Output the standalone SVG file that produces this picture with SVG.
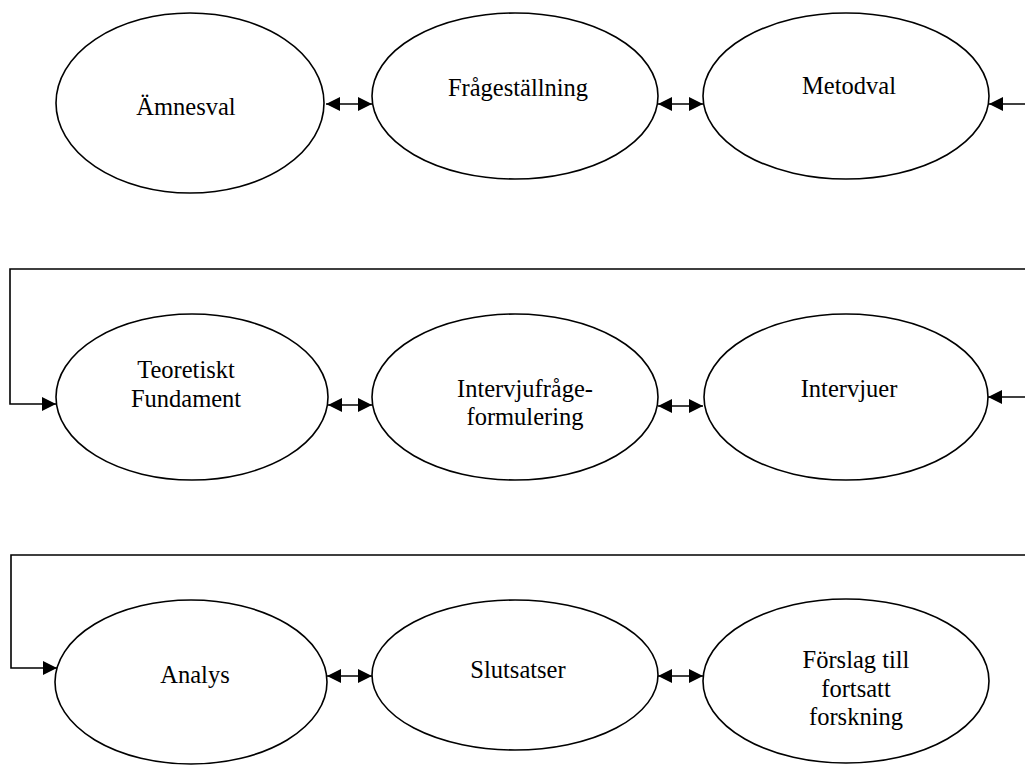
<svg xmlns="http://www.w3.org/2000/svg" width="1025" height="765" viewBox="0 0 1025 765">
<style>
.node ellipse{fill:#fff;stroke:#000;stroke-width:1.6}
.node text{font-size:24.5px;fill:#000;text-anchor:middle}
.conn{fill:none;stroke:#000;stroke-width:1.6}
</style>
<defs>
<marker id="ah" markerUnits="userSpaceOnUse" markerWidth="15" markerHeight="15" refX="14" refY="7" orient="auto-start-reverse">
<path d="M0,0 L14,7 L0,14 z" fill="#000"/>
</marker>
</defs>
<rect width="1025" height="765" fill="#fff"/>
<g id="connectors">
<line class="conn" x1="326" y1="104" x2="372" y2="104" marker-start="url(#ah)" marker-end="url(#ah)"/>
<line class="conn" x1="658" y1="104" x2="703" y2="104" marker-start="url(#ah)" marker-end="url(#ah)"/>
<line class="conn" x1="1025" y1="104" x2="989" y2="104" marker-end="url(#ah)"/>
<polyline class="conn" points="1025,269 10,269 10,404 56,404" marker-end="url(#ah)"/>
<line class="conn" x1="328" y1="405" x2="372" y2="405" marker-start="url(#ah)" marker-end="url(#ah)"/>
<line class="conn" x1="658" y1="406" x2="703" y2="406" marker-start="url(#ah)" marker-end="url(#ah)"/>
<line class="conn" x1="1025" y1="397" x2="988" y2="397" marker-end="url(#ah)"/>
<polyline class="conn" points="1025,555 11,555 11,668 57,668" marker-end="url(#ah)"/>
<line class="conn" x1="327" y1="676" x2="372" y2="676" marker-start="url(#ah)" marker-end="url(#ah)"/>
<line class="conn" x1="658" y1="676" x2="703" y2="676" marker-start="url(#ah)" marker-end="url(#ah)"/>
</g>
<g font-family="'Liberation Serif', 'DejaVu Serif', serif">
<g id="amnesval" class="node"><ellipse cx="190" cy="103" rx="134" ry="90"/><text x="186" y="115">Ämnesval</text></g>
<g id="fragestallning" class="node"><ellipse cx="515" cy="96" rx="143" ry="83"/><text x="518" y="96">Frågeställning</text></g>
<g id="metodval" class="node"><ellipse cx="846" cy="96" rx="143" ry="83"/><text x="849" y="94">Metodval</text></g>
<g id="teoretiskt" class="node"><ellipse cx="192" cy="397" rx="136" ry="83"/><text x="186" y="378">Teoretiskt</text><text x="186" y="407">Fundament</text></g>
<g id="intervjufrage" class="node"><ellipse cx="515" cy="397" rx="143" ry="83"/><text x="525" y="397">Intervjufråge-</text><text x="525" y="425">formulering</text></g>
<g id="intervjuer" class="node"><ellipse cx="846" cy="397" rx="142" ry="83"/><text x="849" y="397">Intervjuer</text></g>
<g id="analys" class="node"><ellipse cx="191" cy="682" rx="136" ry="82"/><text x="195" y="683">Analys</text></g>
<g id="slutsatser" class="node"><ellipse cx="515" cy="675" rx="143" ry="75"/><text x="518" y="678">Slutsatser</text></g>
<g id="forslag" class="node"><ellipse cx="846" cy="681" rx="143" ry="82"/><text x="856" y="668">Förslag till</text><text x="856" y="697">fortsatt</text><text x="856" y="725">forskning</text></g>
</g>
</svg>
